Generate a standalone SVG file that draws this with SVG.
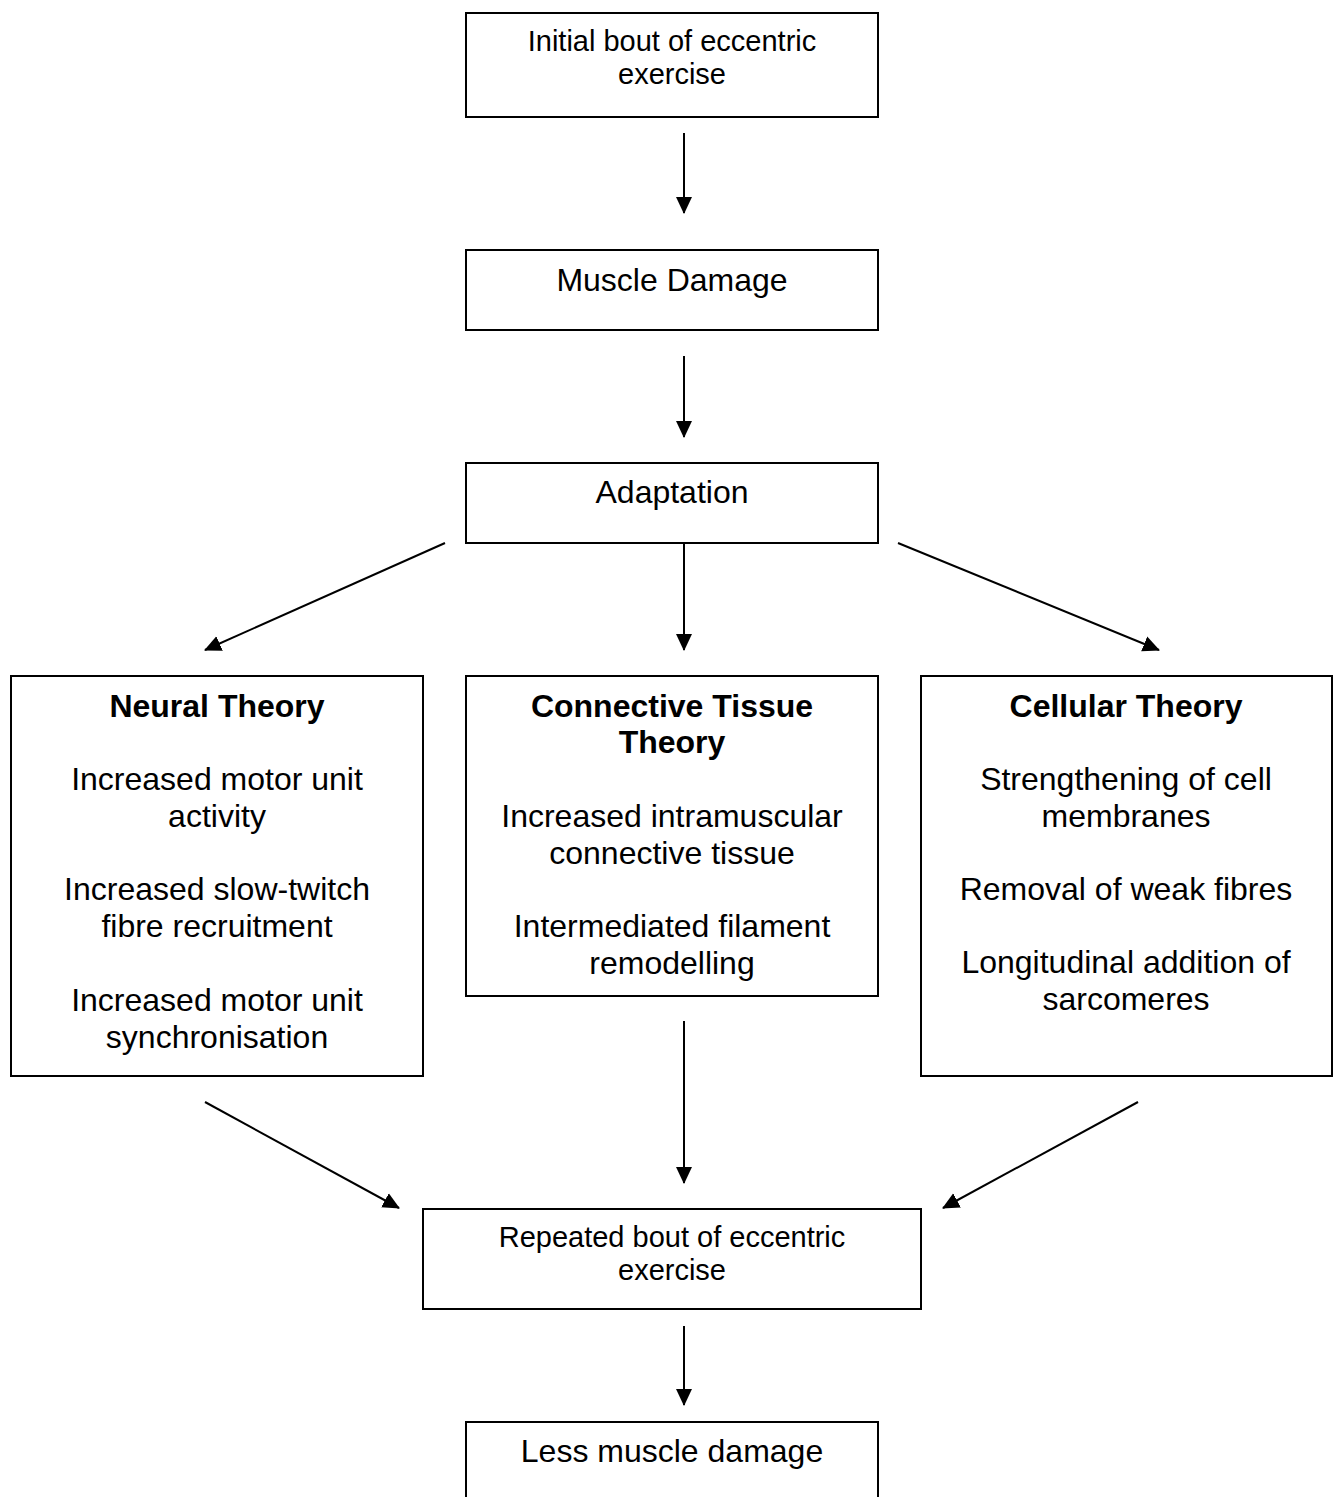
<svg xmlns="http://www.w3.org/2000/svg" width="1333" height="1497" viewBox="0 0 1333 1497">
<style>
.box{fill:#fff;stroke:#000;stroke-width:2}
.t{font-family:"Liberation Sans",Arial,sans-serif;font-size:32px;fill:#000;text-anchor:middle}
.s{font-size:29px}
.b{font-weight:bold}
.c{stroke:#000;stroke-width:2;fill:none;marker-end:url(#ah)}
</style>
<defs>
<marker id="ah" markerUnits="userSpaceOnUse" markerWidth="17" markerHeight="17" viewBox="0 0 17 17" refX="16" refY="8.5" orient="auto">
<polygon points="0,0.5 17,8.5 0,16.5" fill="#000"/>
</marker>
</defs>
<rect width="1333" height="1497" fill="#fff"/>
<g id="connectors">
<line class="c" x1="684" y1="133" x2="684" y2="213"/>
<line class="c" x1="684" y1="356" x2="684" y2="437"/>
<line class="c" x1="684" y1="543" x2="684" y2="650"/>
<line class="c" x1="445" y1="543" x2="205" y2="650"/>
<line class="c" x1="898" y1="543" x2="1159" y2="650"/>
<line class="c" x1="684" y1="1021" x2="684" y2="1183"/>
<line class="c" x1="205" y1="1102" x2="399" y2="1208"/>
<line class="c" x1="1138" y1="1102" x2="943" y2="1208"/>
<line class="c" x1="684" y1="1326" x2="684" y2="1405"/>
</g>
<g id="n-initial">
<rect class="box" x="466" y="13" width="412" height="104"/>
<text class="t s" x="672" y="51">Initial bout of eccentric</text>
<text class="t s" x="672" y="84">exercise</text>
</g>
<g id="n-damage">
<rect class="box" x="466" y="250" width="412" height="80"/>
<text class="t" x="672" y="291">Muscle Damage</text>
</g>
<g id="n-adaptation">
<rect class="box" x="466" y="463" width="412" height="80"/>
<text class="t" x="672" y="503">Adaptation</text>
</g>
<g id="n-neural">
<rect class="box" x="11" y="676" width="412" height="400"/>
<text class="t b" x="217" y="717">Neural Theory</text>
<text class="t" x="217" y="790">Increased motor unit</text>
<text class="t" x="217" y="827">activity</text>
<text class="t" x="217" y="900">Increased slow-twitch</text>
<text class="t" x="217" y="937">fibre recruitment</text>
<text class="t" x="217" y="1011">Increased motor unit</text>
<text class="t" x="217" y="1048">synchronisation</text>
</g>
<g id="n-connective">
<rect class="box" x="466" y="676" width="412" height="320"/>
<text class="t b" x="672" y="717">Connective Tissue</text>
<text class="t b" x="672" y="753">Theory</text>
<text class="t" x="672" y="827">Increased intramuscular</text>
<text class="t" x="672" y="864">connective tissue</text>
<text class="t" x="672" y="937">Intermediated filament</text>
<text class="t" x="672" y="974">remodelling</text>
</g>
<g id="n-cellular">
<rect class="box" x="921" y="676" width="411" height="400"/>
<text class="t b" x="1126" y="717">Cellular Theory</text>
<text class="t" x="1126" y="790">Strengthening of cell</text>
<text class="t" x="1126" y="827">membranes</text>
<text class="t" x="1126" y="900">Removal of weak fibres</text>
<text class="t" x="1126" y="973">Longitudinal addition of</text>
<text class="t" x="1126" y="1010">sarcomeres</text>
</g>
<g id="n-repeated">
<rect class="box" x="423" y="1209" width="498" height="100"/>
<text class="t s" x="672" y="1247">Repeated bout of eccentric</text>
<text class="t s" x="672" y="1280">exercise</text>
</g>
<g id="n-less">
<rect class="box" x="466" y="1422" width="412" height="90"/>
<text class="t" x="672" y="1462">Less muscle damage</text>
</g>
</svg>
